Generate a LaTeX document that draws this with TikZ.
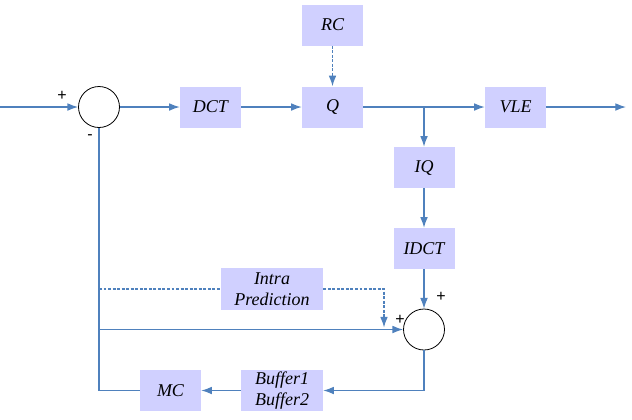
\documentclass[tikz,border=0pt]{standalone}
\usepackage{fontspec}
\setmainfont{Liberation Serif}
\newfontfamily\signfont{Liberation Sans}
\usetikzlibrary{arrows.meta}
\definecolor{lineblue}{RGB}{79,129,189}
\definecolor{boxfill}{RGB}{208,208,255}

\begin{document}
\begin{tikzpicture}[x=0.75pt,y=0.75pt,yscale=-1,xscale=1,
  blk/.style={fill=boxfill, minimum width=45.75pt, minimum height=30.75pt, inner sep=0pt, align=center, font=\itshape\fontsize{13.5}{15.75}\selectfont},
  sumnode/.style={circle, draw=black, line width=0.6pt, minimum size=30.75pt, inner sep=0pt},
  wire/.style={draw=lineblue, line width=0.9pt},
  flow/.style={wire, -{Latex[length=8pt,width=5.8pt]}},
  dotline/.style={dash pattern={on 2.2pt off 1.2pt}},
  sign/.style={font=\signfont\fontsize{12}{12}\selectfont, inner sep=0pt}]
\useasboundingbox (0,0) rectangle (632,419);

%Blocks
\node [sumnode] (sumA) at (99,107) {};
\node [blk] (dct) at (210.5,107) {DCT};
\node [blk] (rc) at (332.5,25) {RC};
\node [blk] (q) at (332.5,107) {Q};
\node [blk] (vle) at (515.5,107) {VLE};
\node [blk] (iq) at (424,167.5) {IQ};
\node [blk] (idct) at (424,248.5) {IDCT};
\node [sumnode] (sumB) at (424,329.5) {};
\node [blk, minimum width=76.5pt, minimum height=31.5pt] (intra) at (272,289) {Intra\\Prediction};
\node [blk, minimum width=61.5pt] (buf) at (282,390.5) {Buffer1\\Buffer2};
\node [blk] (mc) at (170.5,390.5) {MC};

%Points
\coordinate (src) at (0,107);
\coordinate (dst) at (626,107);
\coordinate (split) at (424,107);
\coordinate (tapI) at (99,289);
\coordinate (tapM) at (99,329.5);
\coordinate (drop) at (384,327.5);

%Signs
\node [sign] (pA) at (62,96) {+};
\node [sign] (mA) at (90,137) {-};
\node [sign] (pB) at (441,297) {+};
\node [sign] (pC) at (400,320) {+};

%Forward path
\draw [flow] (src) -- (sumA);
\draw [flow] (sumA) -- (dct);
\draw [flow] (dct) -- (q);
\draw [flow, dotline] (rc) -- (q);
\draw [flow] (q) -- (vle);
\draw [flow] (vle) -- (dst);
\draw [flow] (split) -- (iq);
\draw [flow] (iq) -- (idct);
\draw [flow] (idct) -- (sumB);

%Feedback path
\draw [flow] (sumB) |- (buf);
\draw [flow] (buf) -- (mc);
\draw [wire] (mc) -| (sumA);
\draw [flow] (tapM) -- (sumB);
\draw [wire, dotline] (tapI) -- (intra);
\draw [flow, dotline] (intra) -| (drop);

\end{tikzpicture}
\end{document}
